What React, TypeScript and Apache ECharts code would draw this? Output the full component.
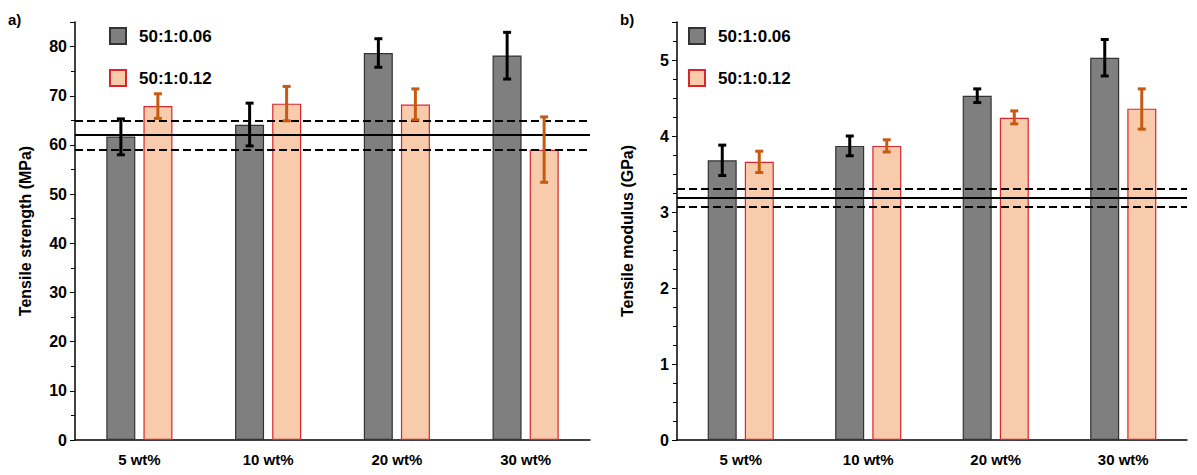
import { useRef, useEffect } from 'react';
import * as echarts from 'echarts';

const categories = ['5 wt%', '10 wt%', '20 wt%', '30 wt%'];
const seriesNames = ['50:1:0.06', '50:1:0.12'];

// tensile strength (MPa): mean, low, high
const strengthA = [61.7, 64.1, 78.7, 78.2];
const strengthAErr = [[58.0, 65.3], [59.8, 68.5], [75.8, 81.6], [73.4, 82.9]];
const strengthB = [67.9, 68.4, 68.2, 59.0];
const strengthBErr = [[65.4, 70.4], [64.9, 71.9], [65.1, 71.4], [52.4, 65.7]];
const strengthRef = [62, 59, 65]; // mean, lower, upper

// tensile modulus (GPa)
const modulusA = [3.68, 3.87, 4.53, 5.03];
const modulusAErr = [[3.48, 3.88], [3.74, 4.0], [4.44, 4.62], [4.79, 5.27]];
const modulusB = [3.66, 3.87, 4.24, 4.36];
const modulusBErr = [[3.52, 3.8], [3.79, 3.95], [4.16, 4.33], [4.09, 4.62]];
const modulusRef = [3.19, 3.07, 3.31];

const GRAY = '#7f7f7f';
const PEACH = '#f8cbad';
const BAR_W = 29;
const OFFSET = 18.5;

function errorSeries(err: number[][], idx: number, side: number, color: string) {
  return {
    type: 'custom',
    xAxisIndex: idx,
    yAxisIndex: idx,
    z: 10,
    data: err.map((e, i) => [i, e[0], e[1]]),
    renderItem: (params: any, api: any) => {
      const lo = api.coord([api.value(0), api.value(1)]);
      const hi = api.coord([api.value(0), api.value(2)]);
      const x = lo[0] + side * OFFSET;
      const style = { stroke: color, lineWidth: 3 };
      return {
        type: 'group',
        children: [
          { type: 'line', shape: { x1: x, y1: lo[1], x2: x, y2: hi[1] }, style },
          { type: 'line', shape: { x1: x - 4, y1: lo[1], x2: x + 4, y2: lo[1] }, style },
          { type: 'line', shape: { x1: x - 4, y1: hi[1], x2: x + 4, y2: hi[1] }, style },
        ],
      };
    },
  };
}

function refLines(ref: number[]) {
  return {
    silent: true,
    symbol: 'none',
    label: { show: false },
    data: [
      { yAxis: ref[0], lineStyle: { type: 'solid', color: '#000', width: 2 } },
      { yAxis: ref[1], lineStyle: { type: 'dashed', color: '#000', width: 2 } },
      { yAxis: ref[2], lineStyle: { type: 'dashed', color: '#000', width: 2 } },
    ],
  };
}

const bold = { fontFamily: 'Arial, Liberation Sans', fontWeight: 'bold', color: '#000' };

export default function App() {
  const divRef = useRef<HTMLDivElement | null>(null);

  useEffect(() => {
    if (!divRef.current) {
      return;
    }
    const chart = echarts.init(divRef.current, null, { renderer: 'svg' });
    const xAxis = (idx: number) => ({
      type: 'category',
      gridIndex: idx,
      data: categories,
      axisLine: { lineStyle: { color: '#000', width: 1.5 } },
      axisTick: { show: false },
      axisLabel: { ...bold, fontSize: 15, margin: 12 },
    });
    const yAxis = (idx: number, name: string, max: number, interval: number, minor: number) => ({
      type: 'value',
      gridIndex: idx,
      min: 0,
      max,
      interval,
      name,
      nameLocation: 'middle',
      nameGap: 42,
      nameTextStyle: { ...bold, fontSize: 16 },
      axisLine: { show: true, lineStyle: { color: '#000', width: 1.5 } },
      axisTick: { show: true, length: 5, lineStyle: { color: '#000' } },
      minorTick: { show: true, splitNumber: minor, length: 4, lineStyle: { color: '#000' } },
      splitLine: { show: false },
      axisLabel: {
        ...bold,
        fontSize: 16,
        formatter: (v: number) => (Math.abs(v / interval - Math.round(v / interval)) < 1e-6 ? String(v) : ''),
      },
    });
    const bar = (name: string, data: number[], idx: number, color: string, border: string, ref?: number[]) => ({
      type: 'bar',
      name,
      xAxisIndex: idx,
      yAxisIndex: idx,
      data,
      barWidth: BAR_W,
      barGap: '28%',
      itemStyle: { color, borderColor: border, borderWidth: 1.2 },
      ...(ref ? { markLine: refLines(ref) } : {}),
    });
    chart.setOption({
      animation: false,
      legend: [0, 1].map((i) => ({
        orient: 'vertical',
        left: i === 0 ? 96 : 675,
        top: 14,
        itemWidth: 16,
        itemHeight: 16,
        itemGap: 24,
        icon: 'rect',
        textStyle: { ...bold, fontSize: 17, padding: [0, 0, 0, 8] },
        data: seriesNames,
      })),
      graphic: [
        { type: 'text', left: 0, top: 4, style: { text: 'a)', font: 'bold 15px Arial', fill: '#000' } },
        { type: 'text', left: 612, top: 4, style: { text: 'b)', font: 'bold 15px Arial', fill: '#000' } },
      ],
      grid: [
        { left: 67, right: 599, top: 14, bottom: 27 },
        { left: 669, right: 2, top: 14, bottom: 22 },
      ],
      xAxis: [xAxis(0), xAxis(1)],
      yAxis: [
        yAxis(0, 'Tensile strength (MPa)', 85, 10, 2),
        yAxis(1, 'Tensile modulus (GPa)', 5.5, 1, 4),
      ],
      series: [
        bar(seriesNames[0], strengthA, 0, GRAY, '#333', strengthRef),
        bar(seriesNames[1], strengthB, 0, PEACH, '#d9262b'),
        bar(seriesNames[0], modulusA, 1, GRAY, '#333', modulusRef),
        bar(seriesNames[1], modulusB, 1, PEACH, '#d9262b'),
        errorSeries(strengthAErr, 0, -1, '#000'),
        errorSeries(strengthBErr, 0, 1, '#c55a11'),
        errorSeries(modulusAErr, 1, -1, '#000'),
        errorSeries(modulusBErr, 1, 1, '#c55a11'),
      ],
    });
    return () => {
      chart.dispose();
    };
  }, []);

  return <div ref={divRef} style={{ width: '1181px', height: '459px' }}></div>;
}
